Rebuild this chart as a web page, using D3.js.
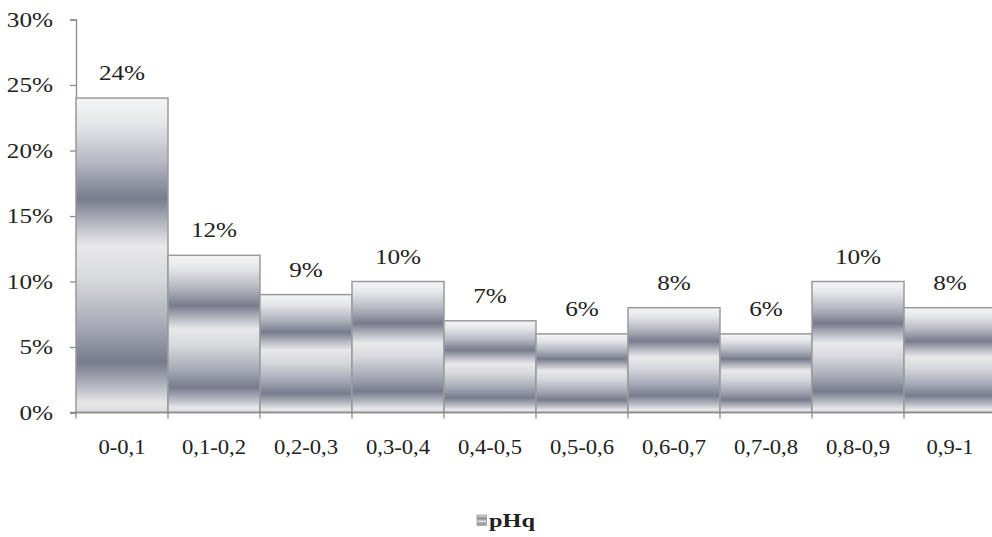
<!DOCTYPE html>
<html><head><meta charset="utf-8">
<script src="https://cdn.jsdelivr.net/npm/d3@7"></script>
<style>
body{margin:0;background:#fff;}
svg{display:block;font-family:"Liberation Serif","Times New Roman",serif;}
</style></head>
<body>
<svg id="c" width="992" height="537"></svg>
<script>
const categories = ["0-0,1","0,1-0,2","0,2-0,3","0,3-0,4","0,4-0,5","0,5-0,6","0,6-0,7","0,7-0,8","0,8-0,9","0,9-1"];
const values = [24, 12, 9, 10, 7, 6, 8, 6, 10, 8];
const yTicks = [0, 5, 10, 15, 20, 25, 30];
const seriesName = "pHq";

const svg = d3.select("#c");
const x = d3.scaleBand().domain(categories).range([76, 996]).padding(0);
const y = d3.scaleLinear().domain([0, 30]).range([412.5, 19.5]);

const defs = svg.append("defs");
const g = defs.append("linearGradient").attr("id","gr").attr("x1",0).attr("y1",0).attr("x2",0).attr("y2",1);
[[0,"#f5f5f6"],[0.08,"#e6e7ea"],[0.2,"#b8bac4"],[0.32,"#777b8c"],[0.4,"#b6b8c2"],[0.47,"#e9e9eb"],[0.58,"#d6d7dc"],[0.72,"#a9acb8"],[0.84,"#777b8c"],[0.92,"#b8bac4"],[0.97,"#e8e8ea"],[1,"#d8d9dd"]]
  .forEach(([o,c])=>g.append("stop").attr("offset",o).attr("stop-color",c));
const lg = defs.append("linearGradient").attr("id","lgr").attr("x1",0).attr("y1",0).attr("x2",0).attr("y2",1);
[[0,"#e0e0e2"],[0.35,"#858898"],[0.6,"#e0e0e2"],[0.85,"#858898"],[1,"#dcdcdf"]]
  .forEach(([o,c])=>lg.append("stop").attr("offset",o).attr("stop-color",c));

const FS = 21;

// y axis
const ya = svg.append("g").attr("transform","translate(76,0)")
  .call(d3.axisLeft(y).tickValues(yTicks).tickFormat(d=>d+"%").tickSize(6).tickPadding(17));
ya.select(".domain").attr("stroke","#8a8a8a").attr("stroke-width",1.3);
ya.selectAll(".tick line").attr("stroke","#8a8a8a").attr("stroke-width",1.3);
ya.selectAll("text").attr("font-size",FS).attr("fill","#222").attr("font-family","Liberation Serif")
  .attr("x",0).attr("transform","translate(-23,0) scale(1.2,1)");

// bars
svg.append("g").selectAll("rect").data(values).join("rect")
  .attr("x",(d,i)=>x(categories[i]))
  .attr("y",d=>y(d))
  .attr("width",x.bandwidth())
  .attr("height",d=>y(0)-y(d))
  .attr("fill","url(#gr)")
  .attr("stroke","#9a9a9a").attr("stroke-width",1.5);

// x axis
const xa = svg.append("g").attr("transform","translate(0,"+y(0)+")");
xa.append("line").attr("x1",70).attr("x2",996).attr("stroke","#8a8a8a").attr("stroke-width",1.3);
xa.selectAll("line.t").data(categories).join("line").attr("class","t")
  .attr("x1",d=>x(d)).attr("x2",d=>x(d)).attr("y1",0).attr("y2",6)
  .attr("stroke","#8a8a8a").attr("stroke-width",1.3);
xa.selectAll("text").data(categories).join("text")
  .attr("transform",d=>`translate(${x(d)+x.bandwidth()/2},41) scale(1.08,1)`)
  .attr("text-anchor","middle").attr("font-size",FS).attr("fill","#222").text(d=>d);

// data labels
svg.append("g").selectAll("text").data(values).join("text")
  .attr("transform",(d,i)=>`translate(${x(categories[i])+x.bandwidth()/2},${y(d)-18}) scale(1.2,1)`)
  .attr("text-anchor","middle").attr("font-size",FS).attr("fill","#222")
  .text(d=>d+"%");

// legend
const leg = svg.append("g");
leg.append("rect").attr("x",477).attr("y",515).attr("width",9.5).attr("height",10.5)
  .attr("fill","url(#lgr)").attr("stroke","#999").attr("stroke-width",0.8);
leg.append("text").attr("transform","translate(489,527) scale(1.35,1)").attr("font-size",18).attr("font-weight","bold")
  .attr("fill","#222").text(seriesName);
</script>
</body></html>
